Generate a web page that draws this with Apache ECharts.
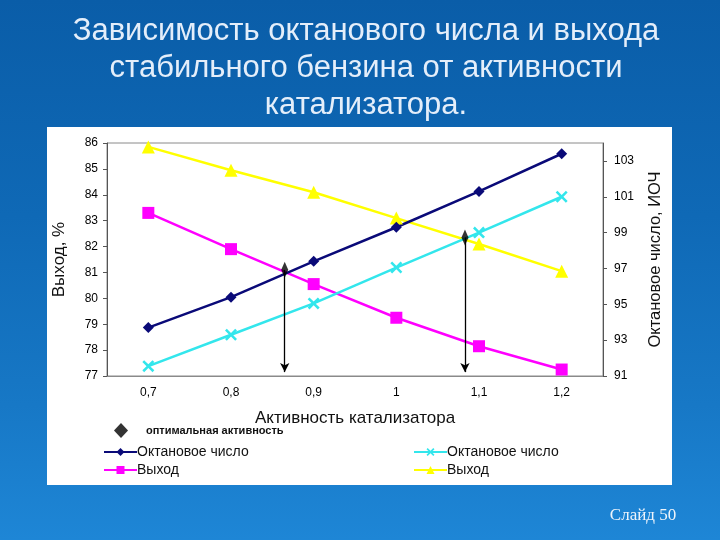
<!DOCTYPE html>
<html><head><meta charset="utf-8">
<script src="https://cdn.jsdelivr.net/npm/echarts@6/dist/echarts.min.js"></script>
<style>
html,body{margin:0;padding:0;width:720px;height:540px;overflow:hidden;
background:linear-gradient(180deg,#0a5da8 0%,#0f69b6 40%,#1778c6 75%,#1e86d6 100%);}
#c{width:720px;height:540px;}
</style></head>
<body><div id="c"></div>
<script>
const categories = ['0,7','0,8','0,9','1','1,1','1,2'];
const octane1 = [93.7, 95.4, 97.4, 99.3, 101.3, 103.4];
const yield1  = [83.3, 81.9, 80.55, 79.25, 78.15, 77.25];
const octane2 = [91.55, 93.3, 95.05, 97.05, 99.0, 101.0];
const yield2  = [85.85, 84.95, 84.1, 83.1, 82.1, 81.05];
const optimalX = [0.865, 1.083];
const optimalTop = [81.1, 82.35];
const arrowBottom = 77.15;
const leftTicks = [77,78,79,80,81,82,83,84,85,86];
const rightTicks = [91,93,95,97,99,101,103];

const chart = echarts.init(document.getElementById('c'), null, {renderer:'canvas'});
const optPoints = optimalX.map((x,i)=>[x, optimalTop[i]]);
const arrowLines = optimalX.map((x,i)=>[{coord:[x, optimalTop[i]]},{coord:[x, arrowBottom]}]);
const xMark = 'path://M0,1.5L1.5,0L5,3.5L8.5,0L10,1.5L6.5,5L10,8.5L8.5,10L5,6.5L1.5,10L0,8.5L3.5,5Z';
const trimName = n => n.trim();
const FF = '"Liberation Sans", Arial, sans-serif';

chart.setOption({
  animation:false,
  backgroundColor:'transparent',
  graphic:[
    {type:'rect', shape:{x:47,y:127,width:625,height:358}, style:{fill:'#ffffff'}, z:-10},
    {type:'text', style:{text:'Зависимость октанового числа и выхода\nстабильного бензина от активности\nкатализатора.',
      x:366, y:13, textAlign:'center', font:'31px ' + FF, fill:'#e4eefa', lineHeight:37}},
    {type:'text', style:{text:'Слайд 50', x:643, y:516, textAlign:'center', textVerticalAlign:'middle',
      font:'17px "Liberation Serif", "Times New Roman", serif', fill:'#eef4fb'}}
  ],
  grid:{left:107, right:117, top:143, bottom:164, show:true, borderColor:'#8a8a8a', borderWidth:1},
  xAxis:[
    {type:'category', data:categories, boundaryGap:true,
     axisLine:{lineStyle:{color:'#8a8a8a'}},
     axisTick:{inside:true, length:4, lineStyle:{color:'#555'}},
     axisLabel:{color:'#000', fontSize:12, fontFamily:FF, margin:11},
     name:'Активность катализатора', nameLocation:'middle', nameGap:34,
     nameTextStyle:{color:'#111', fontSize:17, fontFamily:FF}},
    {type:'value', min:0.65, max:1.25, show:false}
  ],
  yAxis:[
    {type:'value', min:77, max:86, interval:1, position:'left',
     axisLine:{show:true, lineStyle:{color:'#555'}},
     axisTick:{show:true, length:4, lineStyle:{color:'#555'}},
     axisLabel:{color:'#000', fontSize:12, fontFamily:FF, margin:9, customValues:leftTicks},
     splitLine:{show:false},
     name:'Выход, %', nameLocation:'middle', nameRotate:90, nameGap:39,
     nameTextStyle:{color:'#111', fontSize:17, fontFamily:FF}},
    {type:'value', min:91, max:104, position:'right',
     axisLine:{show:true, lineStyle:{color:'#555'}},
     axisTick:{show:true, length:4, lineStyle:{color:'#555'}, customValues:rightTicks},
     axisLabel:{color:'#000', fontSize:12, fontFamily:FF, margin:11, customValues:rightTicks},
     splitLine:{show:false},
     name:'Октановое число, ИОЧ', nameLocation:'middle', nameRotate:90, nameGap:44,
     nameTextStyle:{color:'#111', fontSize:16.5, fontFamily:FF}}
  ],
  legend:[
    {data:[{name:'оптимальная активность', icon:'diamond'}], left:114, top:423, padding:0, itemWidth:14, itemHeight:15,
     textStyle:{fontSize:11, fontWeight:'bold', color:'#111', fontFamily:FF, padding:[0,0,0,13]}},
    {data:['Октановое число','Выход'], orient:'vertical', left:103, top:445, padding:0, itemWidth:33, itemHeight:10, itemGap:4,
     formatter:trimName, textStyle:{fontSize:14, color:'#111', fontFamily:FF, padding:[0,0,0,-5]}},
    {data:['Октановое число ','Выход '], orient:'vertical', left:413, top:445, padding:0, itemWidth:33, itemHeight:10, itemGap:4,
     formatter:trimName, textStyle:{fontSize:14, color:'#111', fontFamily:FF, padding:[0,0,0,-5]}}
  ],
  series:[
    {name:'Выход ', type:'line', data:yield2, yAxisIndex:0, xAxisIndex:0,
     symbol:'triangle', symbolSize:13, lineStyle:{color:'#ffff00', width:2.5}, itemStyle:{color:'#ffff00'}},
    {name:'Выход', type:'line', data:yield1, yAxisIndex:0, xAxisIndex:0,
     symbol:'rect', symbolSize:12, lineStyle:{color:'#ff00ff', width:2.5}, itemStyle:{color:'#ff00ff'}},
    {name:'Октановое число ', type:'line', data:octane2, yAxisIndex:1, xAxisIndex:0,
     symbol:xMark, symbolSize:12, lineStyle:{color:'#33e6ec', width:2.5}, itemStyle:{color:'#33e6ec'}},
    {name:'Октановое число', type:'line', data:octane1, yAxisIndex:1, xAxisIndex:0,
     symbol:'diamond', symbolSize:11, lineStyle:{color:'#0a0a78', width:2.5}, itemStyle:{color:'#0a0a78'}},
    {name:'оптимальная активность', type:'scatter', data:optPoints, xAxisIndex:1, yAxisIndex:0,
     symbol:'diamond', symbolSize:[7,16], itemStyle:{color:'#000'}, z:5,
     markLine:{silent:true, symbol:['none','arrow'], symbolSize:[7,9], label:{show:false},
       lineStyle:{color:'#000', width:1.3, type:'solid'}, data:arrowLines}}
  ]
});
</script></body></html>
